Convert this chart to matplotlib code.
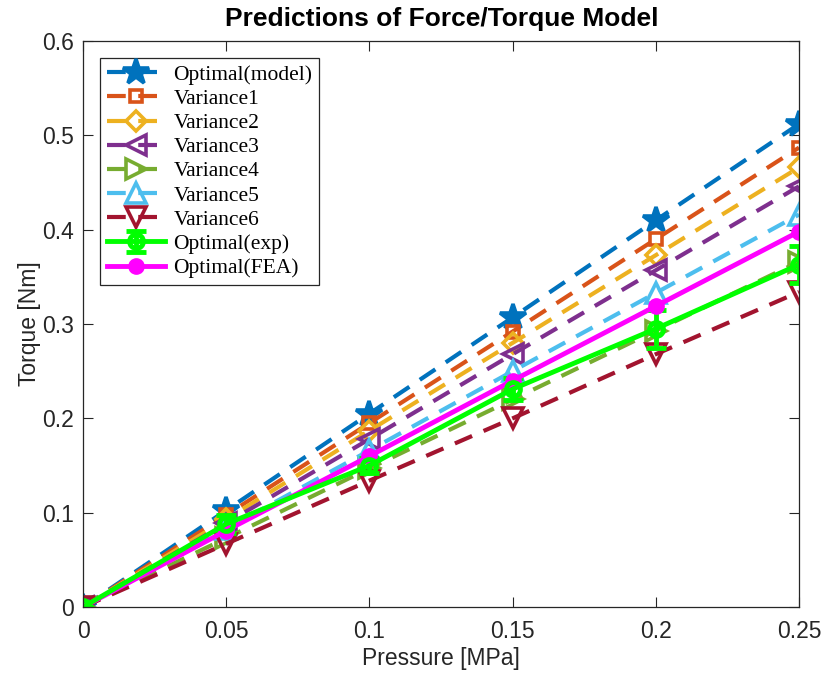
import matplotlib
matplotlib.use("Agg")
import matplotlib.pyplot as plt
import numpy as np

pressure = [0, 0.05, 0.1, 0.15, 0.2, 0.25]
model = [0, 0.1025, 0.205, 0.307, 0.41, 0.512]
var1 = [0, 0.0975, 0.195, 0.292, 0.39, 0.487]
var2 = [0, 0.093, 0.187, 0.28, 0.373, 0.466]
var3 = [0, 0.089, 0.178, 0.268, 0.357, 0.446]
var4 = [0, 0.073, 0.147, 0.22, 0.293, 0.366]
var5 = [0, 0.083, 0.166, 0.25, 0.333, 0.416]
var6 = [0, 0.067, 0.134, 0.2, 0.268, 0.334]
exp_mean = [0, 0.088, 0.15, 0.231, 0.295, 0.363]
exp_err = [0, 0.01, 0.008, 0.012, 0.02, 0.02]
fea = [0, 0.081, 0.16, 0.24, 0.319, 0.398]

plt.rcParams['font.family'] = ['Liberation Sans', 'DejaVu Sans']

fig = plt.figure(figsize=(8.22, 6.75), dpi=100)
ax = fig.add_axes([0.101, 0.1007, 0.871, 0.8385])

dash = (0, (4.5, 3))
lw = 3
series = [
    ('Optimal(model)', model, '#0072BD', '*', 19),
    ('Variance1', var1, '#D95319', 's', 9),
    ('Variance2', var2, '#EDB120', 'D', 10),
    ('Variance3', var3, '#7E2F8E', '<', 14),
    ('Variance4', var4, '#77AC30', '>', 14),
    ('Variance5', var5, '#4DBEEE', '^', 14),
    ('Variance6', var6, '#A2142F', 'v', 14),
]
handles = []
for name, vals, col, mk, ms in series:
    filled = mk == '*'
    h, = ax.plot(pressure, vals, linestyle=dash, lw=lw, color=col, marker=mk, ms=ms,
                 mfc=col if filled else 'none', mec=col, mew=2.6, label=name)
    handles.append(h)

h_exp = ax.errorbar(pressure, exp_mean, yerr=exp_err, color='#00FF00', lw=3.5, marker='o', ms=10,
                    mfc='none', mew=3.5, capsize=7, capthick=3.5, elinewidth=3.5, label='Optimal(exp)')
h_fea, = ax.plot(pressure, fea, color='#FF00FF', lw=3.5, marker='o', ms=11, label='Optimal(FEA)')
handles += [h_exp, h_fea]

ax.set_xlim(0, 0.25)
ax.set_ylim(0, 0.6)
ax.set_xticks(pressure)
ax.set_xticklabels(['0', '0.05', '0.1', '0.15', '0.2', '0.25'])
ax.set_yticks(np.arange(0, 0.61, 0.1))
ax.set_yticklabels(['0', '0.1', '0.2', '0.3', '0.4', '0.5', '0.6'])
ax.tick_params(direction='in', top=True, right=True, labelsize=16.5, length=7,
               color='#262626', labelcolor='#262626')
ax.tick_params(axis='x', pad=9)
ax.tick_params(axis='y', pad=6.5)
for s in ax.spines.values():
    s.set_color('#262626')
    s.set_linewidth(0.9)

ax.set_xlabel('Pressure [MPa]', fontsize=16.5, color='#262626', labelpad=3)
ax.set_ylabel('Torque [Nm]', fontsize=16.5, color='#262626', labelpad=1)
fig.text(0.538, 0.972, 'Predictions of Force/Torque Model', fontsize=19, fontweight='bold',
         ha='center', va='center')

leg = ax.legend(handles=handles, labels=[h.get_label() for h in handles], loc='upper left',
                prop={'family': 'Liberation Serif', 'size': 15.5},
                handlelength=2.7, handletextpad=0.4, borderaxespad=0.8, labelspacing=0.19,
                borderpad=0.3, fancybox=False, edgecolor='#262626', framealpha=1)
leg.get_frame().set_linewidth(0.9)

fig.savefig('out.png', dpi=100)
